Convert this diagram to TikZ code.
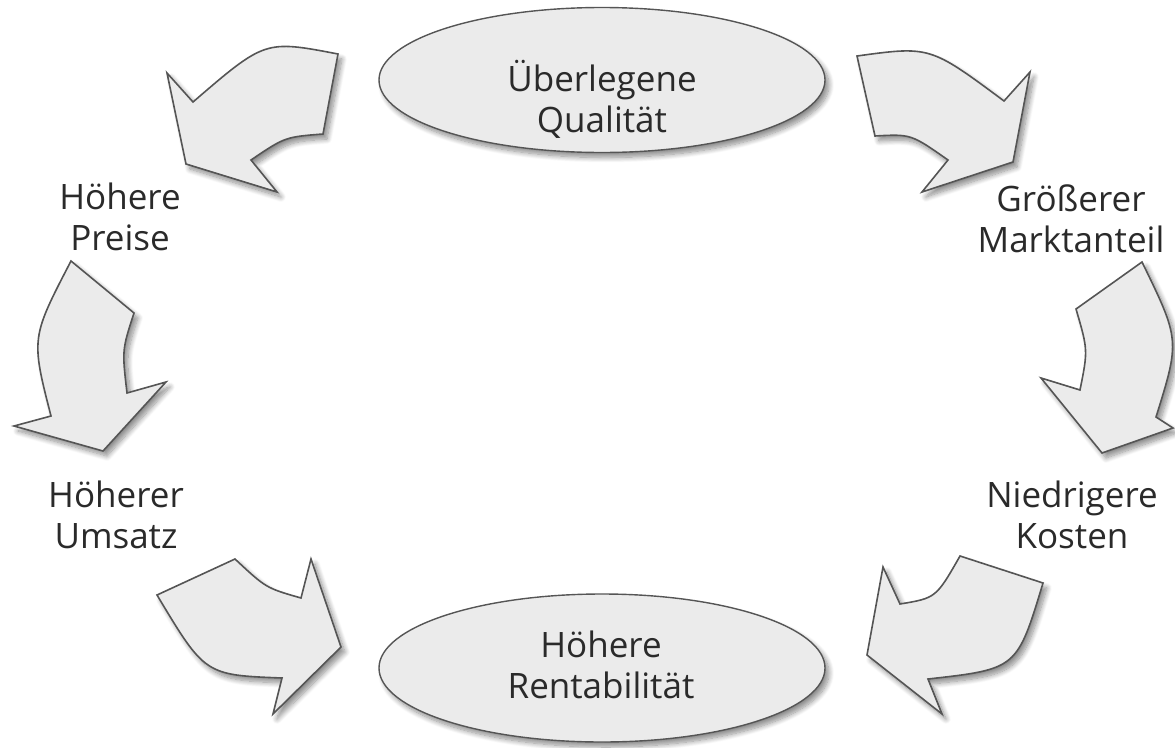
\documentclass[tikz,border=0pt]{standalone}
\usepackage{fontspec}
\setmainfont{Open Sans}
\usetikzlibrary{shapes.geometric,shadows.blur}
\definecolor{shapefill}{HTML}{EBEBEB}
\definecolor{shapeline}{HTML}{555555}
\definecolor{txt}{HTML}{2A2A2A}
\tikzset{
  blockarrow/.style={fill=shapefill, draw=shapeline, line width=1.6pt, line join=miter,
    blur shadow={shadow xshift=4pt, shadow yshift=-5pt, shadow blur steps=10, shadow blur radius=5pt, shadow opacity=45}},
  oval/.style={ellipse, fill=shapefill, draw=shapeline, line width=1.4pt, inner sep=0pt,
    blur shadow={shadow xshift=4pt, shadow yshift=-5pt, shadow blur steps=10, shadow blur radius=5pt, shadow opacity=45}},
  lbl/.style={text=txt, align=center, anchor=base, inner sep=0pt,
    font=\fontsize{35}{41}\selectfont}
}
\begin{document}
\begin{tikzpicture}[x=1pt,y=-1pt]
\useasboundingbox (0,0) rectangle (1175,747);

% ellipses
\node[oval, minimum width=446pt, minimum height=145pt] (top) at (602,80) {};
\node[oval, minimum width=446pt, minimum height=148pt] (bottom) at (602,668) {};
\node[lbl] (toptext) at (602,132) {Überlegene\\Qualität};
\node[lbl] (bottomtext) at (601,698) {Höhere\\Rentabilität};

% labels
\node[lbl] (preise) at (120,250) {Höhere\\Preise};
\node[lbl] (markt) at (1071,252) {Größerer\\Marktanteil};
\node[lbl] (umsatz) at (116,548) {Höherer\\Umsatz};
\node[lbl] (kosten) at (1072,548) {Niedrigere\\Kosten};

% arrow top-left
\draw[blockarrow] (338,54) .. controls (265,40) .. (193,102) -- (167,73) -- (186,164)
  -- (277,192) -- (251,160) .. controls (285,137) .. (323,134) -- cycle;
% arrow top-right
\draw[blockarrow] (857,56) .. controls (930,46) .. (1004,101) -- (1030,72) -- (1013,162)
  -- (922,192) -- (948,160) .. controls (911,134) .. (875,136) -- cycle;
% arrow left
\draw[blockarrow] (71,261) -- (134,313) .. controls (122,350) .. (127,393) -- (166,382)
  -- (103,451) -- (14,426) -- (51,416) .. controls (31,338) .. (71,261) -- cycle;
% arrow right
\draw[blockarrow] (1076,309) -- (1142,262) .. controls (1180,340) .. (1156,417) -- (1173,428)
  -- (1102,453) -- (1041,378) -- (1080,390) .. controls (1088,350) .. (1076,309) -- cycle;
% arrow bottom-left
\draw[blockarrow] (157,595) -- (235,559) .. controls (266,588) .. (301,598) -- (311,559)
  -- (341,647) -- (273,714) -- (282,678) .. controls (205,675) .. (157,595) -- cycle;
% arrow bottom-right
\draw[blockarrow] (960,556) -- (1043,583) .. controls (1017,669) .. (928,679) -- (942,714)
  -- (867,655) -- (883,567) -- (900,604) .. controls (936,598) .. (960,556) -- cycle;
\end{tikzpicture}
\end{document}
